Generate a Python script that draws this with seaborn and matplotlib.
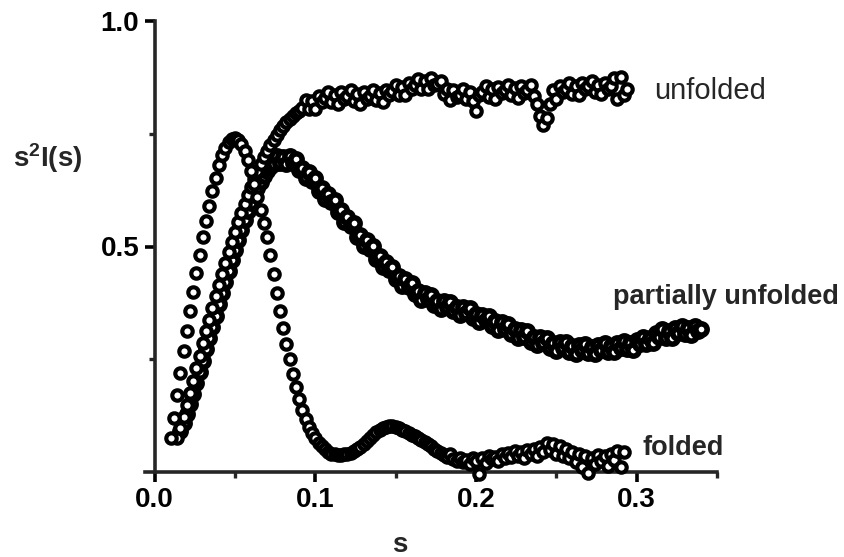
import matplotlib
matplotlib.use("Agg")
import matplotlib.pyplot as plt
import numpy as np
import pandas as pd
import seaborn as sns

# scattering vector grid shared by the three curves
s_grid = [
    0.010, 0.012, 0.014, 0.016, 0.018, 0.020, 0.022, 0.024, 0.026, 0.028,
    0.030, 0.032, 0.034, 0.036, 0.038, 0.040, 0.042, 0.044, 0.046, 0.048,
    0.050, 0.052, 0.054, 0.056, 0.058, 0.060, 0.062, 0.064, 0.066, 0.068,
    0.070, 0.072, 0.074, 0.076, 0.078, 0.080, 0.082, 0.084, 0.086, 0.088,
    0.090, 0.092, 0.094, 0.096, 0.098, 0.100, 0.102, 0.104, 0.106, 0.108,
    0.110, 0.112, 0.114, 0.116, 0.118, 0.120, 0.122, 0.124, 0.126, 0.128,
    0.130, 0.132, 0.134, 0.136, 0.138, 0.140, 0.142, 0.144, 0.146, 0.148,
    0.150, 0.152, 0.154, 0.156, 0.158, 0.160, 0.162, 0.164, 0.166, 0.168,
    0.170, 0.172, 0.174, 0.176, 0.178, 0.180, 0.182, 0.184, 0.186, 0.188,
    0.190, 0.192, 0.194, 0.196, 0.198, 0.200, 0.202, 0.204, 0.206, 0.208,
    0.210, 0.212, 0.214, 0.216, 0.218, 0.220, 0.222, 0.224, 0.226, 0.228,
    0.230, 0.232, 0.234, 0.236, 0.238, 0.240, 0.242, 0.244, 0.246, 0.248,
    0.250, 0.252, 0.254, 0.256, 0.258, 0.260, 0.262, 0.264, 0.266, 0.268,
    0.270, 0.272, 0.274, 0.276, 0.278, 0.280, 0.282, 0.284, 0.286, 0.288,
    0.290, 0.292, 0.294, 0.296, 0.298, 0.300, 0.302, 0.304, 0.306, 0.308,
    0.310, 0.312, 0.314, 0.316, 0.318, 0.320, 0.322, 0.324, 0.326, 0.328,
    0.330, 0.332, 0.334, 0.336, 0.338, 0.340,
]

# folded: s = 0.010 ... 0.292
folded = [
    0.075, 0.120, 0.170, 0.220, 0.268, 0.312, 0.356, 0.400, 0.442, 0.482,
    0.520, 0.556, 0.590, 0.622, 0.652, 0.680, 0.702, 0.719, 0.731, 0.738,
    0.740, 0.736, 0.727, 0.712, 0.692, 0.667, 0.639, 0.610, 0.580, 0.552,
    0.520, 0.482, 0.440, 0.396, 0.358, 0.320, 0.284, 0.250, 0.218, 0.188,
    0.162, 0.138, 0.118, 0.100, 0.086, 0.075, 0.065, 0.057, 0.050, 0.045,
    0.041, 0.039, 0.038, 0.038, 0.039, 0.041, 0.043, 0.046, 0.050, 0.055,
    0.061, 0.068, 0.075, 0.082, 0.088, 0.093, 0.097, 0.100, 0.101, 0.101,
    0.099, 0.097, 0.094, 0.091, 0.087, 0.083, 0.079, 0.075, 0.070, 0.066,
    0.061, 0.057, 0.052, 0.047, 0.042, 0.038, 0.034, 0.040, 0.028, 0.025,
    0.030, 0.022, 0.026, 0.018, 0.032, 0.024, -0.004, 0.030, 0.020, 0.036,
    0.028, 0.034, 0.024, 0.040, 0.030, 0.042, 0.034, 0.046, 0.036, 0.044,
    0.032, 0.048, 0.040, 0.052, 0.036, 0.056, 0.044, 0.064, 0.048, 0.062,
    0.040, 0.058, 0.036, 0.050, 0.030, 0.044, 0.022, 0.040, 0.010, 0.036,
    -0.003, 0.030, 0.018, 0.038, 0.024, 0.036, 0.014, 0.040, 0.026, 0.046,
    0.010, 0.044,
]

# unfolded: s = 0.014 ... 0.294
unfolded = [
    0.075, 0.098, 0.122, 0.148, 0.175, 0.202, 0.230, 0.258, 0.285, 0.312,
    0.338, 0.364, 0.390, 0.415, 0.440, 0.464, 0.488, 0.511, 0.533, 0.554,
    0.575, 0.595, 0.614, 0.632, 0.650, 0.667, 0.683, 0.698, 0.712, 0.725,
    0.737, 0.748, 0.758, 0.767, 0.775, 0.782, 0.789, 0.795, 0.800, 0.806,
    0.824, 0.804, 0.823, 0.805, 0.833, 0.821, 0.829, 0.843, 0.820, 0.837,
    0.816, 0.842, 0.828, 0.834, 0.846, 0.822, 0.838, 0.817, 0.842, 0.828,
    0.834, 0.847, 0.824, 0.841, 0.821, 0.848, 0.836, 0.844, 0.858, 0.836,
    0.854, 0.835, 0.862, 0.850, 0.858, 0.872, 0.850, 0.868, 0.849, 0.874,
    0.858, 0.860, 0.867, 0.838, 0.850, 0.825, 0.848, 0.832, 0.837, 0.849,
    0.826, 0.843, 0.823, 0.800, 0.836, 0.843, 0.856, 0.832, 0.849, 0.828,
    0.854, 0.840, 0.847, 0.859, 0.835, 0.851, 0.830, 0.855, 0.841, 0.847,
    0.858, 0.833, 0.815, 0.790, 0.770, 0.785, 0.815, 0.848, 0.828, 0.855,
    0.842, 0.849, 0.862, 0.839, 0.856, 0.836, 0.862, 0.849, 0.855, 0.867,
    0.843, 0.859, 0.838, 0.863, 0.849, 0.855, 0.873, 0.828, 0.875, 0.835,
    0.850,
]

# partially unfolded: s = 0.016 ... 0.340
partial = [
    0.090, 0.108, 0.128, 0.150, 0.173, 0.197, 0.222, 0.247, 0.272, 0.297,
    0.322, 0.347, 0.372, 0.397, 0.421, 0.445, 0.469, 0.492, 0.515, 0.537,
    0.558, 0.578, 0.597, 0.614, 0.630, 0.644, 0.657, 0.668, 0.677, 0.684,
    0.701, 0.685, 0.699, 0.682, 0.700, 0.685, 0.695, 0.669, 0.675, 0.652,
    0.665, 0.646, 0.652, 0.624, 0.629, 0.605, 0.617, 0.598, 0.604, 0.576,
    0.580, 0.555, 0.566, 0.546, 0.551, 0.522, 0.526, 0.502, 0.514, 0.495,
    0.501, 0.473, 0.478, 0.454, 0.466, 0.448, 0.455, 0.428, 0.435, 0.413,
    0.427, 0.410, 0.419, 0.394, 0.402, 0.382, 0.398, 0.383, 0.393, 0.370,
    0.380, 0.361, 0.379, 0.366, 0.378, 0.356, 0.366, 0.348, 0.365, 0.352,
    0.363, 0.341, 0.351, 0.332, 0.349, 0.336, 0.347, 0.324, 0.334, 0.315,
    0.332, 0.318, 0.329, 0.306, 0.316, 0.297, 0.314, 0.300, 0.312, 0.289,
    0.300, 0.281, 0.299, 0.286, 0.298, 0.276, 0.287, 0.269, 0.288, 0.275,
    0.288, 0.267, 0.279, 0.262, 0.282, 0.270, 0.284, 0.264, 0.277, 0.261,
    0.282, 0.271, 0.286, 0.267, 0.280, 0.265, 0.286, 0.276, 0.291, 0.272,
    0.286, 0.271, 0.293, 0.284, 0.300, 0.283, 0.298, 0.285, 0.308, 0.300,
    0.316, 0.298, 0.313, 0.298, 0.319, 0.309, 0.324, 0.305, 0.319, 0.303,
    0.324, 0.313, 0.318,
]

x_ticks = [0.0, 0.1, 0.2, 0.3]
x_tick_labels = ["0.0", "0.1", "0.2", "0.3"]
y_ticks = [0.5, 1.0]
y_tick_labels = ["0.5", "1.0"]


def series(start, values, name):
    return pd.DataFrame({"s": s_grid[start:start + len(values)],
                         "I": values, "state": name})


df_folded = series(0, folded, "folded")
df_unfolded = series(2, unfolded, "unfolded")
df_partial = series(3, partial, "partially unfolded")

sns.set_theme(style="ticks")
plt.rcParams["font.family"] = ["Liberation Sans", "DejaVu Sans"]
plt.rcParams["mathtext.fontset"] = "custom"
plt.rcParams["mathtext.rm"] = "Liberation Sans"
plt.rcParams["mathtext.bf"] = "Liberation Sans:bold"

fig = plt.figure(figsize=(8.44, 5.57), dpi=100)
ax = fig.add_axes([145 / 844, 1 - 472 / 557, 572 / 844, 451 / 557])

# (data, marker area, edge width) -- the partially unfolded band is heavier
layers = [(df_partial, 66, 4.0), (df_unfolded, 56, 3.0), (df_folded, 56, 3.0)]
for df, size, lw in layers:
    sns.scatterplot(data=df, x="s", y="I", ax=ax, marker="o", s=size,
                    facecolor="white", edgecolor="black", linewidth=lw,
                    legend=False, clip_on=False, zorder=3)

ax.set_xlim(-0.006, 0.35)
ax.set_ylim(0, 1.0)
ax.spines["left"].set_position(("data", 0))
ax.spines["left"].set_bounds(0, 1.0)
for side in ("top", "right"):
    ax.spines[side].set_visible(False)
for side in ("left", "bottom"):
    ax.spines[side].set_linewidth(2.6)
    ax.spines[side].set_zorder(1)

ax.set_xticks(x_ticks)
ax.set_xticklabels(x_tick_labels, fontweight="bold")
ax.set_xticks([0.05, 0.15, 0.25, 0.35], minor=True)
ax.set_yticks(y_ticks)
ax.set_yticklabels(y_tick_labels, fontweight="bold")
ax.set_yticks([0.25, 0.75], minor=True)
ax.tick_params(which="major", direction="out", length=7, width=2.6,
               labelsize=20, pad=4, colors="black")
ax.tick_params(which="minor", direction="out", length=4, width=2.4)
ax.set_xlabel("")
ax.set_ylabel("")

fig.text(13 / 844, 1 - 167 / 557, r"$\mathbf{s^{2}I(s)}$", fontsize=20,
         ha="left", va="baseline")
fig.text(400 / 844, 1 - 552 / 557, "s", fontsize=20, fontweight="bold",
         ha="center", va="baseline")

ax.text(0.311, 0.827, "unfolded", fontsize=21, va="baseline", ha="left",
        clip_on=False)
ax.text(0.285, 0.372, "partially unfolded", fontsize=19.5, fontweight="bold",
        va="baseline", ha="left", clip_on=False)
ax.text(0.3037, 0.038, "folded", fontsize=19.5, fontweight="bold",
        va="baseline", ha="left", clip_on=False)

fig.savefig("out.png", dpi=100)
plt.close(fig)
